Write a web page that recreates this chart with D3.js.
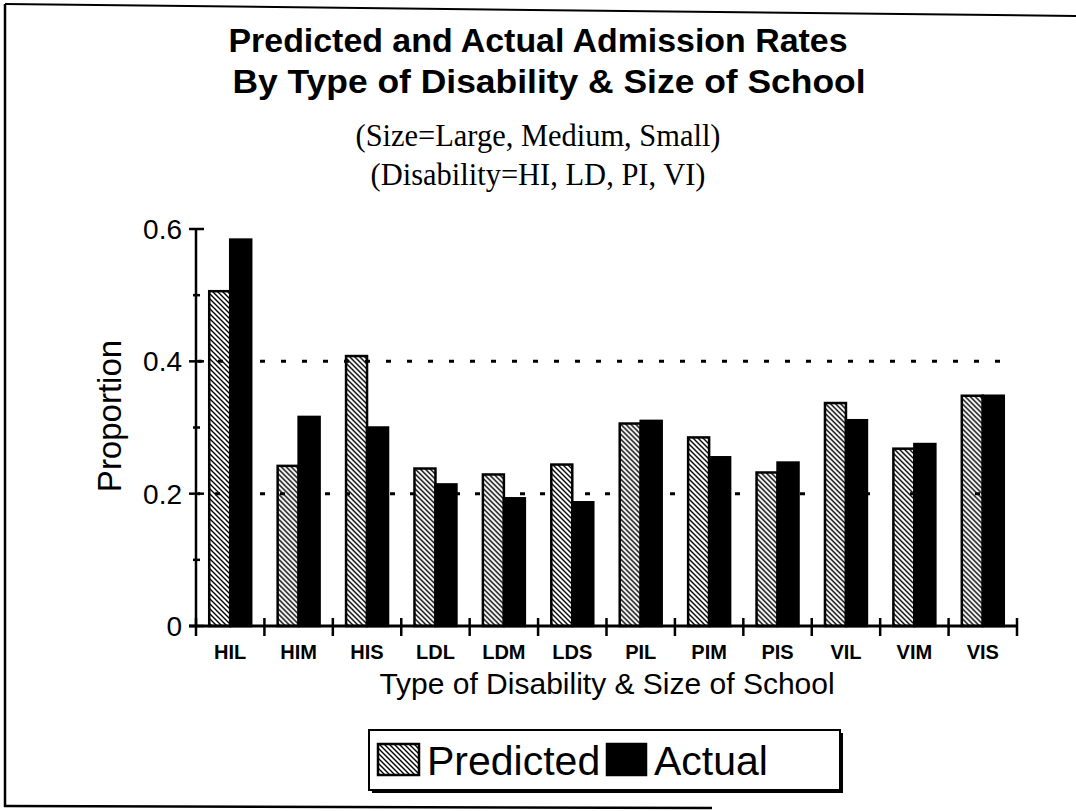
<!DOCTYPE html>
<html>
<head>
<meta charset="utf-8">
<script src="https://cdn.jsdelivr.net/npm/d3@7"></script>
<style>
  body { margin: 0; background: #fff; }
  svg { display: block; }
  .sans { font-family: Arial, 'Liberation Sans', Helvetica, sans-serif; }
  .serif { font-family: 'Times New Roman', 'Liberation Serif', serif; }
</style>
</head>
<body>
<svg id="chart"></svg>
<script>
// values
const categories = ['HIL', 'HIM', 'HIS', 'LDL', 'LDM', 'LDS', 'PIL', 'PIM', 'PIS', 'VIL', 'VIM', 'VIS'];
const predicted = [0.506, 0.242, 0.408, 0.238, 0.229, 0.244, 0.306, 0.285, 0.232, 0.337, 0.268, 0.348];
const actual = [0.584, 0.316, 0.300, 0.214, 0.193, 0.187, 0.310, 0.255, 0.247, 0.311, 0.275, 0.348];
const seriesNames = ['Predicted', 'Actual'];
const yTicks = [0, 0.2, 0.4, 0.6];
const yMinorTicks = [0.1, 0.3, 0.5];
const gridValues = [0.2, 0.4];

class Barchart {

    constructor(_config) {
        this.config = {
            parentElement: _config.parentElement,
            containerWidth: 1076,
            containerHeight: 811,
            plot: { left: 196, right: 1017, top: 229, bottom: 626 }
        };
        this.initVis();
    }

    initVis() {
        let vis = this;
        const p = vis.config.plot;

        vis.svg = d3.select(vis.config.parentElement)
            .attr('width', vis.config.containerWidth)
            .attr('height', vis.config.containerHeight);

        vis.xScale = d3.scaleBand()
            .domain(categories)
            .range([p.left, p.right])
            .padding(0);

        vis.x1 = d3.scaleBand()
            .domain(seriesNames)
            .range([0, vis.xScale.bandwidth()])
            .paddingInner(0)
            .paddingOuter(0.63);

        vis.yScale = d3.scaleLinear()
            .domain([0, 0.6])
            .range([p.bottom, p.top]);

        // hatch for the predicted bars
        const defs = vis.svg.append('defs');
        defs.append('pattern')
            .attr('id', 'hatch')
            .attr('patternUnits', 'userSpaceOnUse')
            .attr('width', 5)
            .attr('height', 5)
            .append('path')
            .attr('d', 'M-1,-1 L6,6 M-1,4 L1,6 M4,-1 L6,1')
            .attr('stroke', '#000')
            .attr('stroke-width', 1.4);

        vis.data = categories.map((c, i) => ({ cat: c, Predicted: predicted[i], Actual: actual[i] }));
    }

    renderVis() {
        let vis = this;
        const p = vis.config.plot;

        // page frame (scanned page edges)
        vis.svg.append('line').attr('x1', 5).attr('y1', 4).attr('x2', 1076).attr('y2', 16)
            .attr('stroke', '#000').attr('stroke-width', 2);
        vis.svg.append('line').attr('x1', 5).attr('y1', 4).attr('x2', 5).attr('y2', 807)
            .attr('stroke', '#000').attr('stroke-width', 2.5);
        vis.svg.append('line').attr('x1', 4).attr('y1', 806).attr('x2', 712).attr('y2', 808)
            .attr('stroke', '#000').attr('stroke-width', 2.5);

        // titles
        vis.svg.append('text').attr('class', 'sans')
            .attr('x', 538).attr('y', 52)
            .attr('text-anchor', 'middle')
            .attr('font-size', 34).attr('font-weight', 'bold')
            .attr('textLength', 619).attr('lengthAdjust', 'spacingAndGlyphs')
            .text('Predicted and Actual Admission Rates');
        vis.svg.append('text').attr('class', 'sans')
            .attr('x', 549).attr('y', 93)
            .attr('text-anchor', 'middle')
            .attr('font-size', 34).attr('font-weight', 'bold')
            .attr('textLength', 633).attr('lengthAdjust', 'spacingAndGlyphs')
            .text('By Type of Disability & Size of School');
        vis.svg.append('text').attr('class', 'serif')
            .attr('x', 538).attr('y', 146)
            .attr('text-anchor', 'middle')
            .attr('font-size', 31)
            .attr('textLength', 365).attr('lengthAdjust', 'spacingAndGlyphs')
            .text('(Size=Large, Medium, Small)');
        vis.svg.append('text').attr('class', 'serif')
            .attr('x', 538).attr('y', 185)
            .attr('text-anchor', 'middle')
            .attr('font-size', 31)
            .attr('textLength', 335).attr('lengthAdjust', 'spacingAndGlyphs')
            .text('(Disability=HI, LD, PI, VI)');

        // dotted reference lines
        vis.svg.selectAll('.grid')
            .data(gridValues)
            .join('line')
            .attr('class', 'grid')
            .attr('x1', p.left + 2)
            .attr('x2', 1010)
            .attr('y1', d => vis.yScale(d))
            .attr('y2', d => vis.yScale(d))
            .attr('stroke', '#000')
            .attr('stroke-width', 3)
            .attr('stroke-dasharray', d => d === 0.4 ? '5,16' : '5,15,5,40')
            .attr('stroke-dashoffset', -62);

        // bars
        vis.svg.selectAll('.category')
            .data(vis.data)
            .join('g')
            .attr('class', 'category')
            .attr('transform', d => `translate(${vis.xScale(d.cat)},0)`)
            .selectAll('rect')
            .data(d => seriesNames.map(key => ({ key, value: d[key] })))
            .join('rect')
            .attr('x', d => vis.x1(d.key))
            .attr('y', d => vis.yScale(d.value))
            .attr('width', vis.x1.bandwidth())
            .attr('height', d => vis.yScale(0) - vis.yScale(d.value))
            .attr('fill', d => d.key === 'Predicted' ? 'url(#hatch)' : '#000')
            .attr('stroke', '#000')
            .attr('stroke-width', 2.5);

        // y axis
        const axisG = vis.svg.append('g').attr('stroke', '#000');
        axisG.append('line')
            .attr('x1', p.left).attr('x2', p.left)
            .attr('y1', vis.yScale(0.6)).attr('y2', vis.yScale(0))
            .attr('stroke-width', 2.5);
        axisG.selectAll('.ytick')
            .data(yTicks)
            .join('line')
            .attr('x1', p.left - 7).attr('x2', p.left + 8)
            .attr('y1', d => vis.yScale(d)).attr('y2', d => vis.yScale(d))
            .attr('stroke-width', 2.5);
        axisG.selectAll('.yminor')
            .data(yMinorTicks)
            .join('line')
            .attr('x1', p.left - 3).attr('x2', p.left + 4)
            .attr('y1', d => vis.yScale(d)).attr('y2', d => vis.yScale(d))
            .attr('stroke-width', 2.5);

        // x axis
        axisG.append('line')
            .attr('x1', p.left - 7).attr('x2', p.right)
            .attr('y1', vis.yScale(0)).attr('y2', vis.yScale(0))
            .attr('stroke-width', 3);
        const bounds = categories.map(c => vis.xScale(c)).concat([vis.xScale.range()[1]]);
        axisG.selectAll('.xtick')
            .data(bounds)
            .join('line')
            .attr('x1', d => d).attr('x2', d => d)
            .attr('y1', vis.yScale(0) - 8).attr('y2', vis.yScale(0) + 10)
            .attr('stroke-width', 2.5);

        // tick labels
        vis.svg.selectAll('.ylabel')
            .data(yTicks)
            .join('text')
            .attr('class', 'sans')
            .attr('x', 182)
            .attr('y', d => vis.yScale(d) + 10)
            .attr('text-anchor', 'end')
            .attr('font-size', 28)
            .text(d => d === 0 ? '0' : d3.format('.1f')(d));

        vis.svg.selectAll('.xlabel')
            .data(categories)
            .join('text')
            .attr('class', 'sans')
            .attr('x', d => vis.xScale(d) + vis.xScale.bandwidth() / 2)
            .attr('y', 659)
            .attr('text-anchor', 'middle')
            .attr('font-size', 20)
            .attr('font-weight', 'bold')
            .text(d => d);

        // axis titles
        vis.svg.append('text').attr('class', 'sans')
            .attr('x', 607).attr('y', 694)
            .attr('text-anchor', 'middle')
            .attr('font-size', 30)
            .text('Type of Disability & Size of School');
        vis.svg.append('text').attr('class', 'sans')
            .attr('transform', 'translate(121,416) rotate(-90)')
            .attr('text-anchor', 'middle')
            .attr('font-size', 33)
            .text('Proportion');

        // legend
        const lg = vis.svg.append('g');
        lg.append('rect').attr('x', 372).attr('y', 733).attr('width', 471).attr('height', 60).attr('fill', '#000');
        lg.append('rect').attr('x', 369).attr('y', 730).attr('width', 471).attr('height', 60)
            .attr('fill', '#fff').attr('stroke', '#000').attr('stroke-width', 2);
        const legendItems = [
            { key: 'Predicted', sx: 378, tx: 427 },
            { key: 'Actual', sx: 607, tx: 654 }
        ];
        lg.selectAll('.swatch')
            .data(legendItems)
            .join('rect')
            .attr('x', d => d.sx).attr('y', 744)
            .attr('width', d => d.key === 'Predicted' ? 41 : 39).attr('height', 31)
            .attr('fill', d => d.key === 'Predicted' ? 'url(#hatch)' : '#000')
            .attr('stroke', '#000').attr('stroke-width', 2.5);
        lg.selectAll('.ltext')
            .data(legendItems)
            .join('text')
            .attr('class', 'sans')
            .attr('x', d => d.tx).attr('y', 775)
            .attr('font-size', 41)
            .text(d => d.key);
    }
}

const chart = new Barchart({ parentElement: '#chart' });
chart.renderVis();
</script>
</body>
</html>
